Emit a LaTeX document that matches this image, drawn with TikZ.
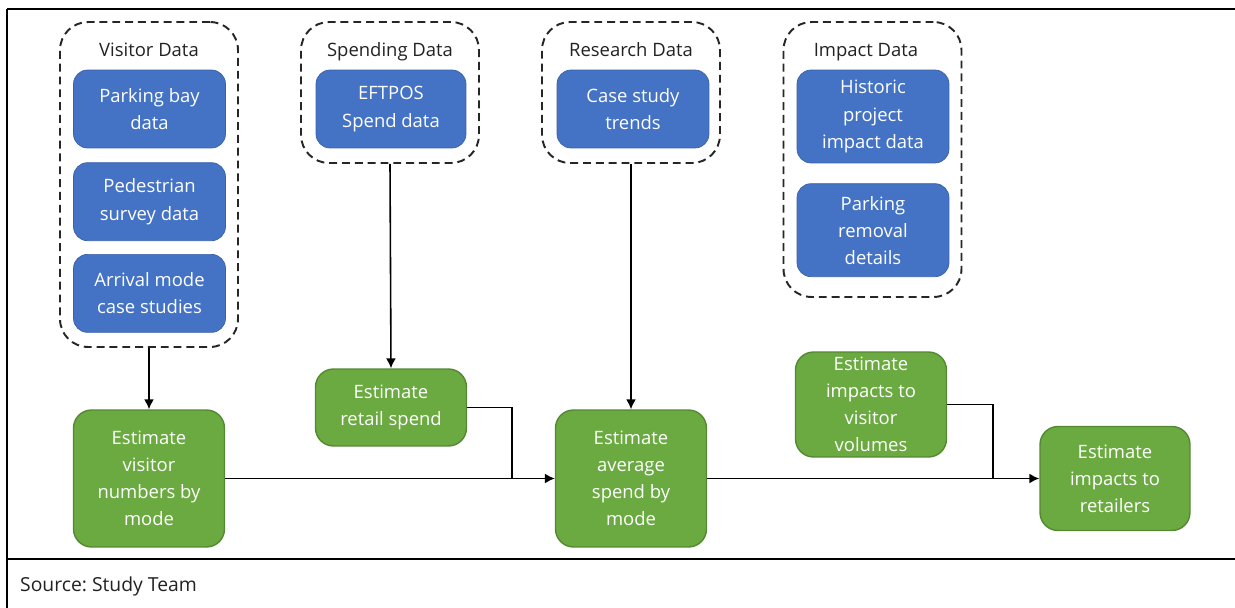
\documentclass[tikz,border=0pt]{standalone}
\usepackage{xcolor}
\usepackage{fontspec}
\setmainfont{Open Sans}
\usepackage{tikz}
\usetikzlibrary{shapes.geometric, arrows.meta, positioning, calc}

\definecolor{srcblue}{HTML}{4472C4}
\definecolor{estgreen}{HTML}{6AAA40}
\definecolor{titlegray}{HTML}{222222}

\begin{document}
\frenchspacing
\begin{tikzpicture}[
  x=0.02cm, y=-0.02cm,
  grp/.style={rectangle, rounded corners=0.56cm, draw=black!85, dashed,
              dash pattern=on 4.5pt off 2.8pt, line width=1.1pt,
              minimum width=3.56cm, inner sep=0pt},
  grptitle/.style={font=\fontsize{10.5}{13}\selectfont, text=titlegray, anchor=base},
  src/.style={rectangle, rounded corners=0.28cm, draw=srcblue!85!black, fill=srcblue,
              text=white, minimum width=3.04cm, minimum height=1.56cm,
              font=\fontsize{10.5}{15.4}\selectfont, align=center, inner sep=0pt},
  est/.style={rectangle, rounded corners=0.36cm, draw=estgreen!80!black, fill=estgreen,
              text=white, minimum width=3.02cm, line width=0.8pt,
              font=\fontsize{10.5}{15.4}\selectfont, align=center, inner sep=0pt},
  arr/.style={-{Latex[length=2mm, width=2mm]}, line width=0.9pt},
  lnk/.style={line width=0.9pt}
]
\useasboundingbox (0,0) rectangle (1235,608);

% frame and source line
\draw[line width=1.1pt] (7,9) -- (1235,9);
\draw[line width=1.1pt] (7,9) -- (7,608);
\draw[line width=0.7pt] (7,559) -- (1235,559);
\node[anchor=west, font=\fontsize{11}{13}\selectfont, text=titlegray] (source) at (14,586) {Source: Study Team};

% data groups
\node[grp, minimum height=6.5cm] (vgrp) at (149,184.5) {};
\node[grptitle] (vtitle) at (149,57) {Visitor Data};
\node[src] (parking) at (149.5,109) {Parking bay\\data};
\node[src, below=0.28cm of parking] (pedest) {Pedestrian\\survey data};
\node[src, below=0.26cm of pedest] (arrival) {Arrival mode\\case studies};

\node[grp, minimum height=2.82cm] (sgrp) at (390,92.5) {};
\node[grptitle] (stitle) at (390,57) {Spending Data};
\node[src, minimum width=3.0cm] (eftpos) at (391,109) {EFTPOS\\Spend data};

\node[grp, minimum height=2.82cm] (rgrp) at (631,92.5) {};
\node[grptitle] (rtitle) at (631,57) {Research Data};
\node[src] (trends) at (633,109) {Case study\\trends};

\node[grp, minimum height=5.5cm] (igrp) at (872.5,159.5) {};
\node[grptitle] (ititle) at (866,57) {Impact Data};
\node[src, minimum height=1.86cm] (historic) at (873,116.5) {Historic\\project\\impact data};
\node[src, minimum height=1.86cm, below=0.4cm of historic] (removal) {Parking\\removal\\details};

% estimation steps
\node[est, minimum height=2.74cm] (vnum) at (149,478.5) {Estimate\\visitor\\numbers by\\mode};
\node[est, minimum height=1.54cm] (rspend) at (391,407.5) {Estimate\\retail spend};
\node[est, minimum height=2.74cm] (avg) at (631,478.5) {Estimate\\average\\spend by\\mode};
\node[est, minimum height=2.1cm] (vvol) at (871,404.5) {Estimate\\impacts to\\visitor\\volumes};
\node[est, minimum height=2.08cm, minimum width=3.0cm] (ret) at (1115,478.5) {Estimate\\impacts to\\retailers};

\coordinate (j1) at (512,478.5);
\coordinate (j2) at (993,478.5);

\draw[arr] (vgrp.south) -- (vnum.north);
\draw[arr] (sgrp.south) -- (rspend.north);
\draw[arr] (rgrp.south) -- (avg.north);
\draw[arr] (vnum.east) -- (avg.west);
\draw[arr] (avg.east) -- (ret.west);
\draw[lnk] (rspend.east) -| (j1);
\draw[lnk] (vvol.east) -| (j2);
\end{tikzpicture}
\end{document}
